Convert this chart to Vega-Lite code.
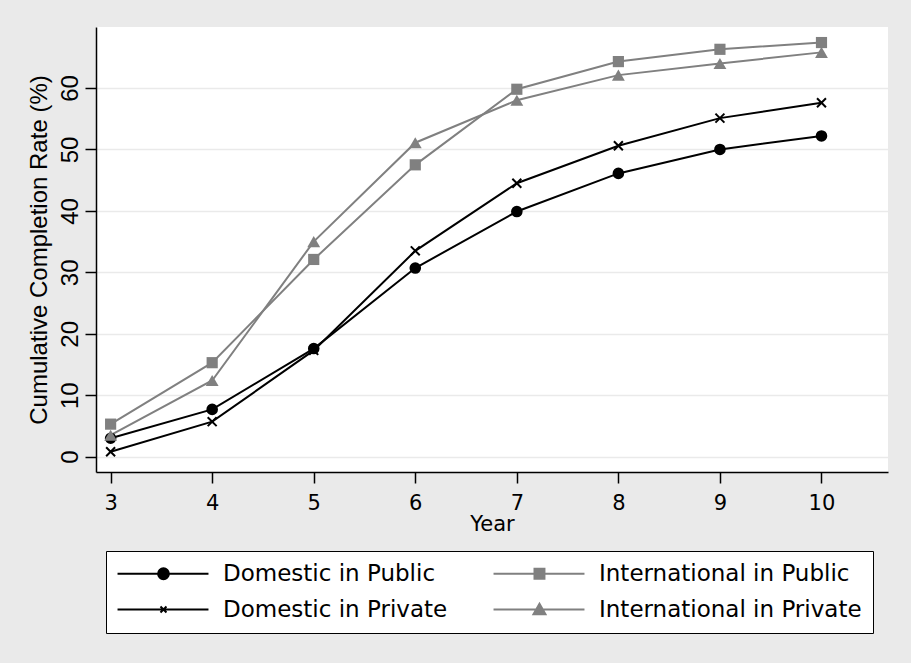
{
  "$schema": "https://vega.github.io/schema/vega-lite/v6.json",
  "width": 792,
  "height": 445,
  "autosize": {"type": "none"},
  "padding": {"left": 96, "top": 27, "right": 23, "bottom": 191},
  "background": "#EAEAEA",
  "config": {
    "view": {"stroke": null, "fill": "white"},
    "axis": {"labelColor": "black", "titleColor": "black", "titleFontWeight": "normal"},
    "legend": {
      "orient": "none", "legendX": 10, "legendY": 524, "columns": 2, "title": null,
      "padding": 11, "fillColor": "white", "strokeColor": "black",
      "columnPadding": 41, "rowPadding": 12,
      "symbolSize": 144, "symbolStrokeWidth": 2, "symbolOpacity": 1, "labelOffset": 83,
      "labelFont": "DejaVu Sans", "labelFontSize": 23, "labelColor": "black", "labelLimit": 0
    }
  },
  "data": {
    "values": [
      {"year": 3, "series": "Domestic in Public", "rate": 3.0},
      {"year": 4, "series": "Domestic in Public", "rate": 7.7},
      {"year": 5, "series": "Domestic in Public", "rate": 17.6},
      {"year": 6, "series": "Domestic in Public", "rate": 30.7},
      {"year": 7, "series": "Domestic in Public", "rate": 39.9},
      {"year": 8, "series": "Domestic in Public", "rate": 46.1},
      {"year": 9, "series": "Domestic in Public", "rate": 50.0},
      {"year": 10, "series": "Domestic in Public", "rate": 52.2},
      {"year": 3, "series": "International in Public", "rate": 5.3},
      {"year": 4, "series": "International in Public", "rate": 15.3},
      {"year": 5, "series": "International in Public", "rate": 32.1},
      {"year": 6, "series": "International in Public", "rate": 47.5},
      {"year": 7, "series": "International in Public", "rate": 59.8},
      {"year": 8, "series": "International in Public", "rate": 64.3},
      {"year": 9, "series": "International in Public", "rate": 66.3},
      {"year": 10, "series": "International in Public", "rate": 67.4},
      {"year": 3, "series": "Domestic in Private", "rate": 0.8},
      {"year": 4, "series": "Domestic in Private", "rate": 5.7},
      {"year": 5, "series": "Domestic in Private", "rate": 17.3},
      {"year": 6, "series": "Domestic in Private", "rate": 33.5},
      {"year": 7, "series": "Domestic in Private", "rate": 44.5},
      {"year": 8, "series": "Domestic in Private", "rate": 50.6},
      {"year": 9, "series": "Domestic in Private", "rate": 55.1},
      {"year": 10, "series": "Domestic in Private", "rate": 57.6},
      {"year": 3, "series": "International in Private", "rate": 3.5},
      {"year": 4, "series": "International in Private", "rate": 12.4},
      {"year": 5, "series": "International in Private", "rate": 35.0},
      {"year": 6, "series": "International in Private", "rate": 51.1},
      {"year": 7, "series": "International in Private", "rate": 58.0},
      {"year": 8, "series": "International in Private", "rate": 62.1},
      {"year": 9, "series": "International in Private", "rate": 64.0},
      {"year": 10, "series": "International in Private", "rate": 65.8}
    ]
  },
  "encoding": {
    "x": {
      "field": "year", "type": "quantitative",
      "scale": {"domain": [2.856, 10.655], "nice": false, "zero": false},
      "axis": {
        "values": [3, 4, 5, 6, 7, 8, 9, 10], "grid": false,
        "domainColor": "black", "domainWidth": 1.5, "tickColor": "black", "tickWidth": 1.5, "tickSize": 11,
        "labelFont": "DejaVu Sans", "labelFontSize": 21, "labelPadding": 9,
        "title": "Year", "titleFont": "DejaVu Sans", "titleFontSize": 21, "titlePadding": 0
      }
    },
    "y": {
      "field": "rate", "type": "quantitative",
      "scale": {"domain": [-2.49, 69.93], "nice": false, "zero": false},
      "axis": {
        "values": [0, 10, 20, 30, 40, 50, 60], "grid": true, "gridColor": "#EAEAEA", "gridWidth": 1.5,
        "domainColor": "black", "domainWidth": 1.5, "tickColor": "black", "tickWidth": 1.5, "tickSize": 11,
        "labelFont": "Liberation Sans", "labelFontSize": 24, "labelAngle": 270, "labelAlign": "center", "labelBaseline": "alphabetic", "labelPadding": 8,
        "title": "Cumulative Completion Rate (%)", "titleFont": "Liberation Sans", "titleFontSize": 24, "titlePadding": 7
      }
    },
    "color": {
      "field": "series", "type": "nominal",
      "scale": {
        "domain": ["Domestic in Public", "Domestic in Private", "International in Public", "International in Private"],
        "range": ["black", "black", "#808080", "#808080"]
      },
      "legend": {}
    }
  },
  "layer": [
    {
      "mark": {"type": "line", "strokeWidth": 2},
      "encoding": {"detail": {"field": "series"}}
    },
    {
      "transform": [{"filter": "datum.series === 'Domestic in Public'"}],
      "mark": {"type": "point", "shape": "circle", "filled": true, "opacity": 1, "size": 135}
    },
    {
      "transform": [{"filter": "datum.series === 'Domestic in Private'"}],
      "mark": {"type": "point", "shape": "M-1,-1L1,1M-1,1L1,-1", "filled": false, "opacity": 1, "size": 80, "strokeWidth": 2}
    },
    {
      "transform": [{"filter": "datum.series === 'International in Public'"}],
      "mark": {"type": "point", "shape": "square", "filled": true, "opacity": 1, "size": 125}
    },
    {
      "transform": [{"filter": "datum.series === 'International in Private'"}],
      "mark": {"type": "point", "shape": "triangle-up", "filled": true, "opacity": 1, "size": 165}
    },
    {
      "transform": [{"filter": "datum.year > 100"}],
      "mark": {"type": "point", "filled": true, "opacity": 1, "strokeWidth": 2},
      "encoding": {
        "shape": {
          "field": "series", "type": "nominal",
          "scale": {
            "domain": ["Domestic in Public", "Domestic in Private", "International in Public", "International in Private"],
            "range": [
              "M-1.83,0H13.33M4.93,0A0.9,0.9 0 1,1 6.73,0A0.9,0.9 0 1,1 4.93,0Z",
              "M-1.83,0H13.33M5.33,-0.5L6.33,0.5M5.33,0.5L6.33,-0.5",
              "M-1.83,0H13.33M5,-0.83H6.66V0.83H5Z",
              "M-1.83,0H13.33M5.83,-0.95L6.83,0.8H4.83Z"
            ]
          },
          "legend": {}
        },
        "stroke": {
          "field": "series", "type": "nominal",
          "scale": {
            "domain": ["Domestic in Public", "Domestic in Private", "International in Public", "International in Private"],
            "range": ["black", "black", "#808080", "#808080"]
          },
          "legend": {}
        }
      }
    }
  ]
}
